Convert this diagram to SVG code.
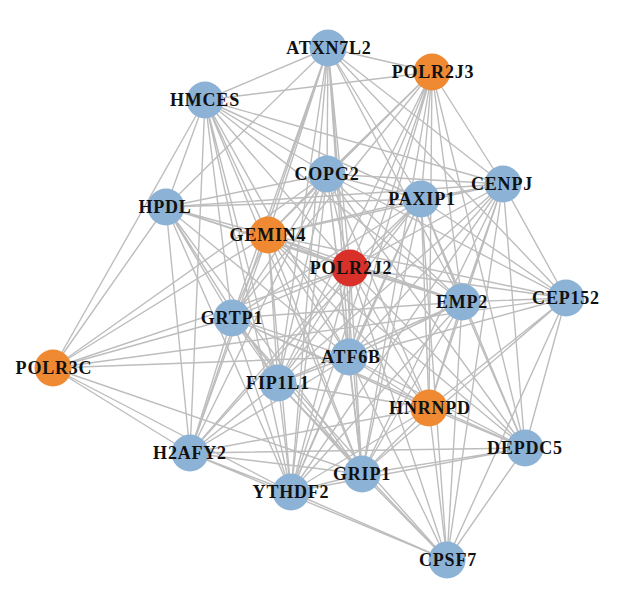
<svg xmlns="http://www.w3.org/2000/svg" width="620" height="593" viewBox="0 0 620 593">
<style>
.e{stroke:#bdbdbd;stroke-width:1.4;fill:none}
.b{fill:#8cb2d6}
.o{fill:#f08a32}
.r{fill:#d9302a}
text{font-family:"Liberation Serif","Times New Roman",serif;font-weight:bold;font-size:18px;letter-spacing:0.8px;fill:#111;text-anchor:middle}
</style>
<rect width="620" height="593" fill="#fff"/>
<g id="connectors">
<path class="e" d="M328 48L432 72M328 48L205 100M328 48L327 174M328 48L503 184M328 48L421 199M328 48L166 207M328 48L268 235M328 48L350 268M328 48L462 302M328 48L566 298M328 48L232 318M328 48L349 357M328 48L278 383M328 48L190 453M328 48L362 474M328 48L291 492"/>
<path class="e" d="M432 72L205 100M432 72L327 174M432 72L503 184M432 72L421 199M432 72L268 235M432 72L350 268M432 72L462 302M432 72L232 318M432 72L349 357M432 72L278 383M432 72L429 408M432 72L525 448M432 72L362 474M432 72L291 492"/>
<path class="e" d="M205 100L327 174M205 100L503 184M205 100L421 199M205 100L166 207M205 100L268 235M205 100L350 268M205 100L462 302M205 100L232 318M205 100L53 368M205 100L349 357M205 100L278 383M205 100L190 453M205 100L362 474M205 100L291 492"/>
<path class="e" d="M327 174L503 184M327 174L421 199M327 174L166 207M327 174L268 235M327 174L350 268M327 174L462 302M327 174L566 298M327 174L232 318M327 174L53 368M327 174L349 357M327 174L278 383M327 174L429 408M327 174L190 453M327 174L525 448M327 174L362 474M327 174L291 492"/>
<path class="e" d="M503 184L421 199M503 184L166 207M503 184L268 235M503 184L350 268M503 184L462 302M503 184L566 298M503 184L349 357M503 184L278 383M503 184L429 408M503 184L525 448M503 184L362 474M503 184L291 492M503 184L447 560"/>
<path class="e" d="M421 199L166 207M421 199L268 235M421 199L350 268M421 199L462 302M421 199L566 298M421 199L232 318M421 199L349 357M421 199L278 383M421 199L429 408M421 199L190 453M421 199L525 448M421 199L362 474M421 199L291 492M421 199L447 560"/>
<path class="e" d="M166 207L268 235M166 207L350 268M166 207L462 302M166 207L232 318M166 207L53 368M166 207L349 357M166 207L278 383M166 207L190 453M166 207L362 474M166 207L291 492"/>
<path class="e" d="M268 235L350 268M268 235L462 302M268 235L566 298M268 235L232 318M268 235L53 368M268 235L349 357M268 235L278 383M268 235L429 408M268 235L190 453M268 235L525 448M268 235L362 474M268 235L291 492"/>
<path class="e" d="M350 268L462 302M350 268L566 298M350 268L232 318M350 268L53 368M350 268L349 357M350 268L278 383M350 268L429 408M350 268L190 453M350 268L525 448M350 268L362 474M350 268L291 492M350 268L447 560"/>
<path class="e" d="M462 302L566 298M462 302L232 318M462 302L349 357M462 302L278 383M462 302L429 408M462 302L525 448M462 302L362 474M462 302L291 492M462 302L447 560"/>
<path class="e" d="M566 298L53 368M566 298L349 357M566 298L429 408M566 298L525 448M566 298L362 474M566 298L447 560"/>
<path class="e" d="M232 318L53 368M232 318L349 357M232 318L278 383M232 318L429 408M232 318L190 453M232 318L525 448M232 318L362 474M232 318L291 492M232 318L447 560"/>
<path class="e" d="M53 368L349 357M53 368L190 453M53 368L362 474M53 368L291 492"/>
<path class="e" d="M349 357L278 383M349 357L429 408M349 357L190 453M349 357L525 448M349 357L362 474M349 357L291 492M349 357L447 560"/>
<path class="e" d="M278 383L429 408M278 383L190 453M278 383L362 474M278 383L291 492M278 383L447 560"/>
<path class="e" d="M429 408L190 453M429 408L525 448M429 408L362 474M429 408L291 492M429 408L447 560"/>
<path class="e" d="M190 453L525 448M190 453L362 474M190 453L291 492M190 453L447 560"/>
<path class="e" d="M525 448L362 474M525 448L291 492M525 448L447 560M362 474L291 492M362 474L447 560M291 492L447 560"/>
</g>
<g id="ATXN7L2"><circle class="b" cx="328" cy="48" r="18.5"/><text x="329" y="54">ATXN7L2</text></g>
<g id="POLR2J3"><circle class="o" cx="432" cy="72" r="18.5"/><text x="433" y="78">POLR2J3</text></g>
<g id="HMCES"><circle class="b" cx="205" cy="100" r="18.5"/><text x="205" y="106">HMCES</text></g>
<g id="COPG2"><circle class="b" cx="327" cy="174" r="18.5"/><text x="327" y="180">COPG2</text></g>
<g id="CENPJ"><circle class="b" cx="503" cy="184" r="18.5"/><text x="502" y="190">CENPJ</text></g>
<g id="PAXIP1"><circle class="b" cx="421" cy="199" r="18.5"/><text x="422" y="205">PAXIP1</text></g>
<g id="HPDL"><circle class="b" cx="166" cy="207" r="18.5"/><text x="165" y="213">HPDL</text></g>
<g id="GEMIN4"><circle class="o" cx="268" cy="235" r="18.5"/><text x="268" y="241">GEMIN4</text></g>
<g id="POLR2J2"><circle class="r" cx="350" cy="268" r="18.5"/><text x="351" y="274">POLR2J2</text></g>
<g id="EMP2"><circle class="b" cx="462" cy="302" r="18.5"/><text x="462" y="308">EMP2</text></g>
<g id="CEP152"><circle class="b" cx="566" cy="298" r="18.5"/><text x="566" y="304">CEP152</text></g>
<g id="GRTP1"><circle class="b" cx="232" cy="318" r="18.5"/><text x="232" y="324">GRTP1</text></g>
<g id="POLR3C"><circle class="o" cx="53" cy="368" r="18.5"/><text x="54" y="374">POLR3C</text></g>
<g id="ATF6B"><circle class="b" cx="349" cy="357" r="18.5"/><text x="351" y="363">ATF6B</text></g>
<g id="FIP1L1"><circle class="b" cx="278" cy="383" r="18.5"/><text x="278" y="389">FIP1L1</text></g>
<g id="HNRNPD"><circle class="o" cx="429" cy="408" r="18.5"/><text x="430" y="414">HNRNPD</text></g>
<g id="H2AFY2"><circle class="b" cx="190" cy="453" r="18.5"/><text x="190" y="459">H2AFY2</text></g>
<g id="DEPDC5"><circle class="b" cx="525" cy="448" r="18.5"/><text x="525" y="454">DEPDC5</text></g>
<g id="GRIP1"><circle class="b" cx="362" cy="474" r="18.5"/><text x="362" y="480">GRIP1</text></g>
<g id="YTHDF2"><circle class="b" cx="291" cy="492" r="18.5"/><text x="291" y="498">YTHDF2</text></g>
<g id="CPSF7"><circle class="b" cx="447" cy="560" r="18.5"/><text x="448" y="566">CPSF7</text></g>
</svg>
